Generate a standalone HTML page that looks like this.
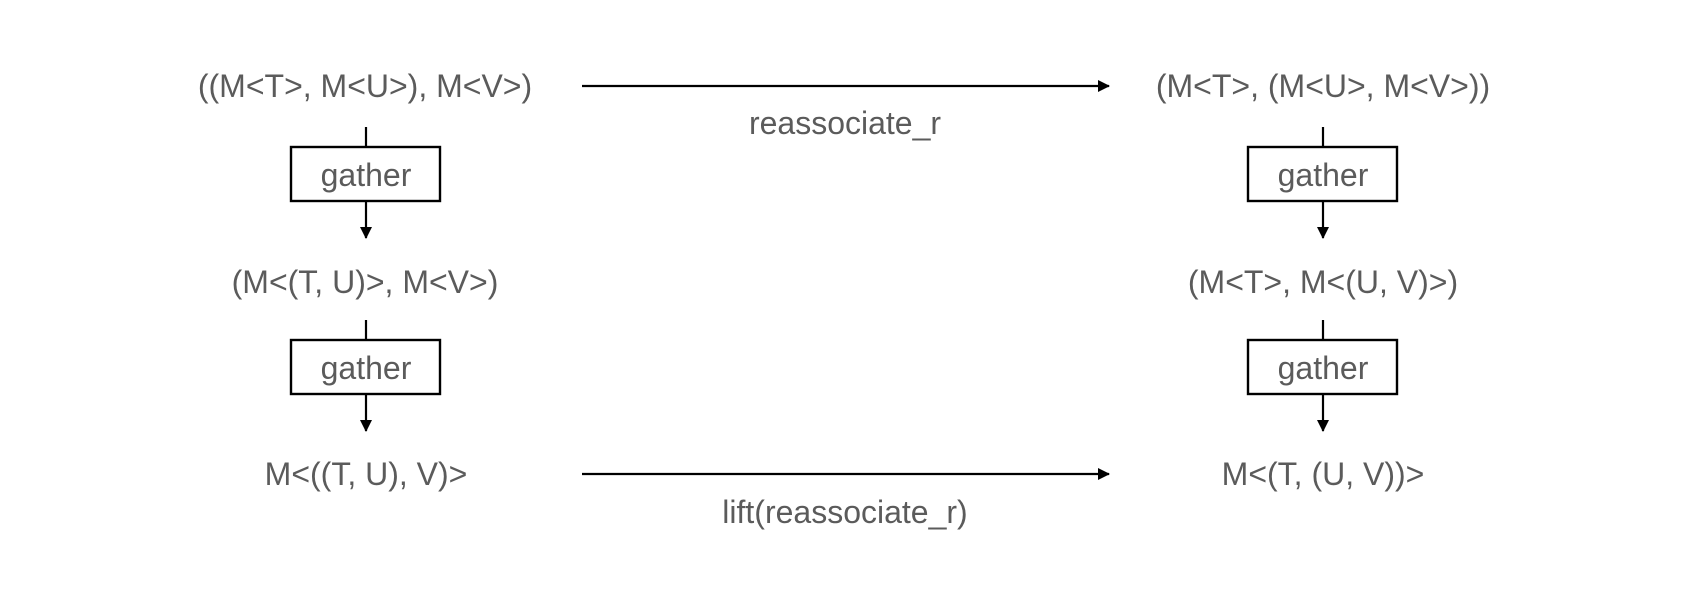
<!DOCTYPE html>
<html><head><meta charset="utf-8"><style>
html,body{margin:0;padding:0;background:#fff;}
svg{display:block;}
text{font-family:"Liberation Sans",Arial,sans-serif;font-size:32px;fill:#5b5b5b;text-anchor:middle;}
</style></head><body>
<svg width="1700" height="591" viewBox="0 0 1700 591">
<defs><marker id="ah" markerWidth="12" markerHeight="12" refX="11" refY="6" orient="auto" markerUnits="userSpaceOnUse"><path d="M0,0 L12,6 L0,12 z" fill="#000"/></marker></defs>
<g>
<text x="365" y="97">((M&lt;T&gt;, M&lt;U&gt;), M&lt;V&gt;)</text>
<line x1="366" y1="127" x2="366" y2="147" stroke="#000" stroke-width="2.2"/>
<rect x="291" y="147" width="149" height="54" fill="#fff" stroke="#000" stroke-width="2.4"/>
<text x="366" y="186">gather</text>
<line x1="366" y1="201" x2="366" y2="238" stroke="#000" stroke-width="2.2" marker-end="url(#ah)"/>
<text x="365" y="293">(M&lt;(T, U)&gt;, M&lt;V&gt;)</text>
<line x1="366" y1="320" x2="366" y2="340" stroke="#000" stroke-width="2.2"/>
<rect x="291" y="340" width="149" height="54" fill="#fff" stroke="#000" stroke-width="2.4"/>
<text x="366" y="379">gather</text>
<line x1="366" y1="394" x2="366" y2="431" stroke="#000" stroke-width="2.2" marker-end="url(#ah)"/>
<text x="366" y="485">M&lt;((T, U), V)&gt;</text>
</g>
<g>
<text x="1323" y="97">(M&lt;T&gt;, (M&lt;U&gt;, M&lt;V&gt;))</text>
<line x1="1323" y1="127" x2="1323" y2="147" stroke="#000" stroke-width="2.2"/>
<rect x="1248" y="147" width="149" height="54" fill="#fff" stroke="#000" stroke-width="2.4"/>
<text x="1323" y="186">gather</text>
<line x1="1323" y1="201" x2="1323" y2="238" stroke="#000" stroke-width="2.2" marker-end="url(#ah)"/>
<text x="1323" y="293">(M&lt;T&gt;, M&lt;(U, V)&gt;)</text>
<line x1="1323" y1="320" x2="1323" y2="340" stroke="#000" stroke-width="2.2"/>
<rect x="1248" y="340" width="149" height="54" fill="#fff" stroke="#000" stroke-width="2.4"/>
<text x="1323" y="379">gather</text>
<line x1="1323" y1="394" x2="1323" y2="431" stroke="#000" stroke-width="2.2" marker-end="url(#ah)"/>
<text x="1323" y="485">M&lt;(T, (U, V))&gt;</text>
</g>
<line x1="582" y1="86" x2="1109" y2="86" stroke="#000" stroke-width="2.2" marker-end="url(#ah)"/>
<text x="845" y="134">reassociate_r</text>
<line x1="582" y1="474" x2="1109" y2="474" stroke="#000" stroke-width="2.2" marker-end="url(#ah)"/>
<text x="845" y="523">lift(reassociate_r)</text>
</svg>
</body></html>
